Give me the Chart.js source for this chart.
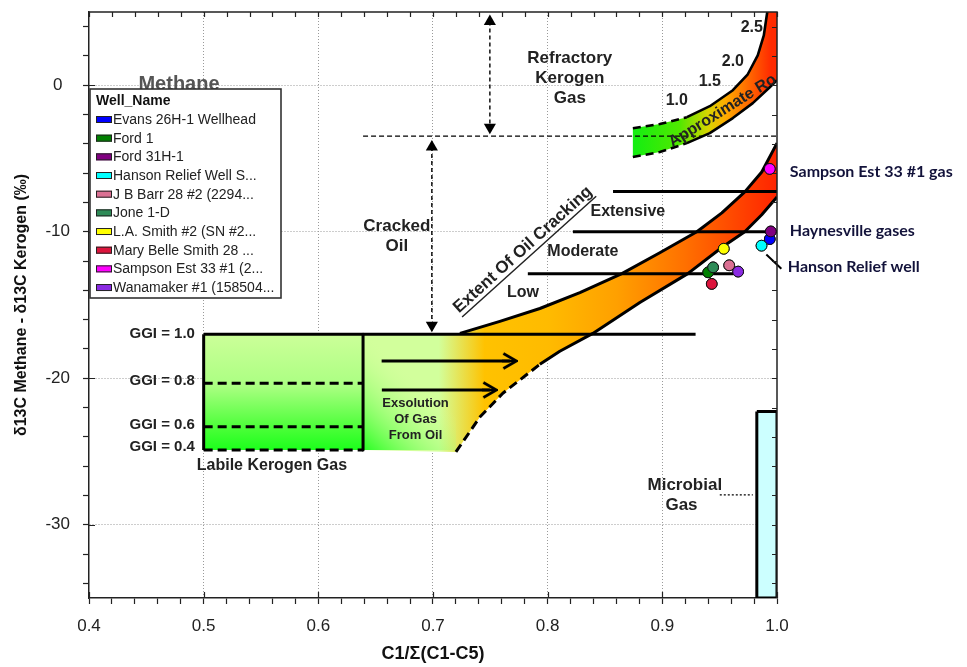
<!DOCTYPE html>
<html>
<head>
<meta charset="utf-8">
<script src="https://cdn.jsdelivr.net/npm/chart.js@4.4.1/dist/chart.umd.min.js"></script>
<style>
  html, body { margin: 0; padding: 0; background: #fff; }
  #wrap { position: relative; width: 967px; height: 667px; }
</style>
</head>
<body>
<div id="wrap"><canvas id="chart"></canvas></div>
<script>
// ---- Well gas samples: C1/Σ(C1-C5) vs δ13C(methane) − δ13C(kerogen) ----
const wellNames = ['Evans 26H-1 Wellhead', 'Ford 1', 'Ford 31H-1', 'Hanson Relief Well S...',
  'J B Barr 28 #2 (2294...', 'Jone 1-D', 'L.A. Smith #2 (SN #2...', 'Mary Belle Smith 28 ...',
  'Sampson Est 33 #1 (2...', 'Wanamaker #1 (158504...'];
const wellC1Ratio = [0.9937, 0.9400, 0.9946, 0.9865, 0.9583, 0.9443, 0.9536, 0.9431, 0.9937, 0.9661];
const wellDeltaC = [-10.50, -12.77, -9.98, -10.95, -12.29, -12.43, -11.16, -13.56, -5.71, -12.72];
const wellColors = ['#0000ff', '#008000', '#800080', '#00ffff', '#db7093', '#2e8b57', '#ffff00', '#dc143c', '#ff00ff', '#8a2be2'];

// ---- Axis ticks ----
const xMajorTicks = [0.4, 0.5, 0.6, 0.7, 0.8, 0.9, 1.0];
const yMajorTicks = [-30, -20, -10, 0];
const xMinorTicks = [0.4, 0.42, 0.44, 0.46, 0.48, 0.5, 0.52, 0.54, 0.56, 0.58, 0.6, 0.62, 0.64, 0.66, 0.68, 0.7,
  0.72, 0.74, 0.76, 0.78, 0.8, 0.82, 0.84, 0.86, 0.88, 0.9, 0.92, 0.94, 0.96, 0.98, 1.0];
const yMinorTicks = [-34, -32, -30, -28, -26, -24, -22, -20, -18, -16, -14, -12, -10, -8, -6, -4, -2, 0, 2, 4];

// ---- Interpretive zones (same units as the axes) ----
const crackingUpper = [[0.7235, -16.94], [0.7583, -16.12], [0.7932, -15.24], [0.8281, -14.15], [0.8647, -12.86],
  [0.8978, -11.43], [0.9301, -10.0], [0.9519, -8.71], [0.9719, -7.28], [0.9867, -5.92], [1.0, -3.95]];
const crackingLowerDashed = [[0.72, -25.03], [0.7409, -22.65], [0.7609, -21.02], [0.7932, -19.05]];
const crackingLowerSolid = [[0.7932, -19.05], [0.8106, -18.16], [0.8394, -16.94], [0.8804, -14.83], [0.9222, -12.86],
  [0.9527, -11.02], [0.9719, -10.0], [0.9867, -8.84], [1.0, -7.62]];
const roUpperDashed = [[0.8743, -2.93], [0.8978, -2.65], [0.9214, -2.18]];
const roUpperSolid = [[0.9214, -2.18], [0.9414, -1.43], [0.9615, -0.34], [0.9745, 0.75], [0.9832, 2.04],
  [0.9885, 3.40], [0.9915, 5.0]];
const roLowerDashed = [[0.8743, -4.90], [0.8978, -4.56], [0.9214, -3.95]];
const roLowerSolid = [[0.9214, -3.95], [0.9414, -3.27], [0.9615, -2.24], [0.9789, -1.22], [0.9937, -0.14], [1.0, 0.34]];

const labileX = [0.5, 0.639];
const ggiLevels = ['1.0', '0.8', '0.6', '0.4'];
const ggiDelta = [-17.0, -20.34, -23.31, -24.9];
const ggiLineEnd = 0.929;

const extentStartX = [0.857, 0.822, 0.7827];
const extentEndX = [1.0, 1.0, 0.962];
const extentDelta = [-7.26, -10.0, -12.86];

const refractoryFloor = -3.47;
const microbialX = [0.9824, 1.0];
const microbialTop = -22.27;

// ---- Colour ramps along the zones ----
const bandStops = [[0.705, '#d2ff9c'], [0.745, '#ffc200'], [0.80, '#ffbb00'], [0.86, '#ffa000'],
  [0.92, '#ff7000'], [0.96, '#ff4a00'], [1.0, '#ff2400']];
const roStops = [[0.874, '#12ee12'], [0.915, '#50e800'], [0.94, '#d8d400'], [0.955, '#ffac00'],
  [0.975, '#ff6a00'], [0.995, '#ff2a00']];
const labileStops = [[-17, '#ccff99'], [-20.5, '#abff82'], [-23.5, '#48ff36'], [-24.9, '#1cff1c']];

const SANS = '"Liberation Sans", Arial, sans-serif';
const near = (a, b) => Math.abs(a - b) < 1e-6;
const isMajorX = v => xMajorTicks.some(m => near(m, v));
const isMajorY = v => yMajorTicks.some(m => near(m, v));
const pts = arr => arr.map(([x, y]) => ({ x, y }));

function ramp(chart, axis, stops) {
  const { ctx, chartArea, scales } = chart;
  if (!chartArea) return 'rgba(0,0,0,0)';
  const s = scales[axis];
  const a = stops[0][0], b = stops[stops.length - 1][0];
  const p0 = s.getPixelForValue(a), p1 = s.getPixelForValue(b);
  const g = axis === 'x' ? ctx.createLinearGradient(p0, 0, p1, 0) : ctx.createLinearGradient(0, p0, 0, p1);
  stops.forEach(([v, c]) => g.addColorStop((v - a) / (b - a), c));
  return g;
}
function diagonal(chart, from, to, c0, c1) {
  const { ctx, chartArea, scales: { x, y } } = chart;
  if (!chartArea) return 'rgba(0,0,0,0)';
  const g = ctx.createLinearGradient(x.getPixelForValue(from[0]), y.getPixelForValue(from[1]),
    x.getPixelForValue(to[0]), y.getPixelForValue(to[1]));
  g.addColorStop(0, c0); g.addColorStop(1, c1);
  return g;
}

// open arrowhead with a short shaft piece, used as a point style
function chevron() {
  const c = document.createElement('canvas');
  c.width = 16; c.height = 18;
  const g = c.getContext('2d');
  g.strokeStyle = '#000'; g.lineWidth = 2.6; g.lineJoin = 'miter';
  g.beginPath(); g.moveTo(1.5, 1.5); g.lineTo(14.5, 9); g.lineTo(1.5, 16.5); g.stroke();
  g.beginPath(); g.moveTo(0, 9); g.lineTo(14, 9); g.stroke();
  return c;
}
const arrowHead = chevron();

function line(points, extra) {
  return Object.assign({
    type: 'line', data: pts(points), borderColor: '#000', borderWidth: 3, pointRadius: 0,
    fill: false, tension: 0, order: 5, borderJoinStyle: 'round'
  }, extra || {});
}
function shape(points, bg, extra) {
  return Object.assign({
    type: 'line', data: pts(points), borderColor: 'rgba(0,0,0,0)', borderWidth: 0, pointRadius: 0,
    fill: 'shape', backgroundColor: bg, tension: 0, order: 20
  }, extra || {});
}

const bandShape = [[labileX[1], ggiDelta[0]], ...crackingUpper, ...crackingLowerSolid.slice().reverse(),
  ...crackingLowerDashed.slice().reverse(), [labileX[1], ggiDelta[3]]];
const roShape = [...roUpperDashed, ...roUpperSolid, [1.0, 5.0], ...roLowerSolid.slice().reverse(), ...roLowerDashed.slice().reverse()];
const labileShape = [[labileX[0], ggiDelta[0]], [labileX[1], ggiDelta[0]], [labileX[1], ggiDelta[3]], [labileX[0], ggiDelta[3]]];
const exsolutionGlow = [[labileX[1], ggiDelta[0]], [0.72, ggiDelta[0]], [0.72, ggiDelta[3]], [labileX[1], ggiDelta[3]]];
const microbialShape = [[microbialX[0], microbialTop], [microbialX[1], microbialTop], [microbialX[1], -35],
  [microbialX[0], -35], [microbialX[0], microbialTop]];

const datasets = [
  shape(labileShape, c => ramp(c.chart, 'y', labileStops), { order: 24 }),
  shape(bandShape, c => ramp(c.chart, 'x', bandStops), { order: 23 }),
  shape(exsolutionGlow, c => diagonal(c.chart, [0.636, -24.9], [0.69, -20.3], 'rgba(20,255,20,0.95)', 'rgba(210,255,156,0)'), { order: 22 }),
  shape(roShape, c => ramp(c.chart, 'x', roStops), { order: 21 }),
  shape(microbialShape, '#ccffff', { borderColor: '#000', borderWidth: 3, borderJoinStyle: 'miter', order: 20 }),

  // oil-cracking band edges
  line(crackingUpper),
  line(crackingLowerDashed, { borderDash: [9, 5] }),
  line(crackingLowerSolid),
  // thermal maturity (Ro) band edges
  line(roUpperDashed, { borderDash: [8, 5], borderWidth: 2.6 }),
  line(roUpperSolid, { borderWidth: 2.6 }),
  line(roLowerDashed, { borderDash: [8, 5], borderWidth: 2.6 }),
  line(roLowerSolid, { borderWidth: 2.6 }),

  // labile kerogen gas box and GGI levels
  line([[labileX[0], ggiDelta[0]], [ggiLineEnd, ggiDelta[0]]]),
  line([[labileX[0], ggiDelta[0]], [labileX[0], ggiDelta[3]]], { borderJoinStyle: 'miter' }),
  line([[labileX[1], ggiDelta[0]], [labileX[1], ggiDelta[3]]]),
  ...ggiDelta.slice(1).map(v => line([[labileX[0], v], [labileX[1], v]], { borderDash: [9, 5] })),

  // extent of oil cracking levels
  ...extentDelta.map((v, i) => line([[extentStartX[i], v], [extentEndX[i], v]])),

  // refractory kerogen gas floor and range arrows
  line([[labileX[1], refractoryFloor], [1.0, refractoryFloor]], { borderDash: [5, 3], borderWidth: 1.4 }),
  line([[0.7496, 4.35], [0.7496, -2.86]], {
    borderDash: [4, 3], borderWidth: 1.4, pointRadius: 7, pointStyle: 'triangle',
    pointRotation: [0, 180], pointBackgroundColor: '#000', pointBorderWidth: 0
  }),
  line([[0.699, -4.22], [0.699, -16.39]], {
    borderDash: [4, 3], borderWidth: 1.4, pointRadius: 7, pointStyle: 'triangle',
    pointRotation: [0, 180], pointBackgroundColor: '#000', pointBorderWidth: 0
  }),

  // gas exsolution arrows
  line([[0.6552, -18.82], [0.767, -18.82]], { pointRadius: [0, 8], pointStyle: arrowHead }),
  line([[0.6554, -20.80], [0.7496, -20.80]], { pointRadius: [0, 8], pointStyle: arrowHead }),

  // leader lines
  line([[0.9501, -27.96], [0.9789, -27.96]], { borderDash: [2, 2], borderWidth: 1.2 }),
  line([[0.9907, -11.56], [1.0038, -12.52]], { borderWidth: 2, clip: false }),

  // well samples
  ...wellNames.map((n, i) => ({
    type: 'scatter', label: n, data: [{ x: wellC1Ratio[i], y: wellDeltaC[i] }],
    backgroundColor: wellColors[i], borderColor: '#111', borderWidth: 1, pointRadius: 5.4,
    order: 0, clip: false, isWell: true
  }))
];

// ---- Text placed in data units ----
const notes = [
  { text: 'Methane', x: 0.4785, y: 0.07, size: 20, color: '#555' },
  { text: 'Refractory', x: 0.8193, y: 1.82, size: 17 },
  { text: 'Kerogen', x: 0.8193, y: 0.46, size: 17 },
  { text: 'Gas', x: 0.8193, y: -0.90, size: 17 },
  { text: 'Cracked', x: 0.6685, y: -9.66, size: 17 },
  { text: 'Oil', x: 0.6685, y: -11.02, size: 17 },
  { text: 'Extensive', x: 0.8699, y: -8.64, size: 16 },
  { text: 'Moderate', x: 0.8307, y: -11.36, size: 16 },
  { text: 'Low', x: 0.7784, y: -14.15, size: 16 },
  { text: 'Extent Of Oil Cracking', x: 0.7784, y: -11.22, size: 17, rot: -42, underline: true },
  { text: '1.0', x: 0.9126, y: -1.02, size: 16 },
  { text: '1.5', x: 0.9414, y: 0.27, size: 16 },
  { text: '2.0', x: 0.9615, y: 1.63, size: 16 },
  { text: '2.5', x: 0.978, y: 3.95, size: 16 },
  { text: 'Approximate Ro', x: 0.9525, y: -1.75, size: 16, rot: -32, clip: true },
  ...ggiLevels.map((g, i) => ({ text: 'GGI = ' + g, x: 0.4924, y: [-16.94, -20.18, -23.2, -24.65][i], size: 15, align: 'right' })),
  { text: 'Labile Kerogen Gas', x: 0.5595, y: -25.99, size: 16 },
  { text: 'Exsolution', x: 0.6848, y: -21.72, size: 13 },
  { text: 'Of Gas', x: 0.6848, y: -22.79, size: 13 },
  { text: 'From Oil', x: 0.6848, y: -23.93, size: 13 },
  { text: 'Microbial', x: 0.9196, y: -27.33, size: 17 },
  { text: 'Gas', x: 0.9167, y: -28.64, size: 17 },
  { text: 'Sampson Est 33 #1 gas', x: 1.0112, y: -5.92, size: 16, align: 'left', family: 'Lato, "Open Sans", sans-serif', color: '#12123a' },
  { text: 'Haynesville gases', x: 1.0112, y: -9.93, size: 16, align: 'left', family: 'Lato, "Open Sans", sans-serif', color: '#12123a' },
  { text: 'Hanson Relief well', x: 1.0094, y: -12.38, size: 16, align: 'left', family: 'Lato, "Open Sans", sans-serif', color: '#12123a' }
];

const decorations = {
  id: 'decorations',
  afterDraw(chart) {
    const { ctx, chartArea: a, scales: { x, y } } = chart;
    ctx.save();
    // top and right frame with inward ticks; inward halves of major ticks on left/bottom
    ctx.strokeStyle = '#222';
    ctx.lineWidth = 1.5;
    ctx.beginPath();
    ctx.moveTo(a.left, a.top); ctx.lineTo(a.right, a.top); ctx.lineTo(a.right, a.bottom);
    ctx.stroke();
    ctx.lineWidth = 1.2;
    ctx.beginPath();
    x.ticks.forEach(t => {
      const px = Math.round(x.getPixelForValue(t.value)) + 0.5;
      ctx.moveTo(px, a.top); ctx.lineTo(px, a.top + 5);
      if (isMajorX(t.value)) { ctx.moveTo(px, a.bottom); ctx.lineTo(px, a.bottom - 6); }
    });
    y.ticks.forEach(t => {
      const py = Math.round(y.getPixelForValue(t.value)) + 0.5;
      ctx.moveTo(a.right, py); ctx.lineTo(a.right - 5, py);
      if (isMajorY(t.value)) { ctx.moveTo(a.left, py); ctx.lineTo(a.left + 6, py); }
    });
    ctx.stroke();
    ctx.restore();

    // sample points stay above the dotted grid
    chart.data.datasets.forEach((ds, i) => {
      if (ds.isWell) chart.getDatasetMeta(i).controller.draw();
    });

    // annotations
    notes.forEach(n => {
      ctx.save();
      if (n.clip) { ctx.beginPath(); ctx.rect(a.left, a.top, a.right - a.left, a.bottom - a.top); ctx.clip(); }
      const px = x.getPixelForValue(n.x), py = y.getPixelForValue(n.y);
      ctx.translate(px, py);
      if (n.rot) ctx.rotate(n.rot * Math.PI / 180);
      ctx.font = 'bold ' + n.size + 'px ' + (n.family || SANS);
      ctx.fillStyle = n.color || '#222';
      ctx.textAlign = n.align || 'center';
      ctx.textBaseline = 'middle';
      ctx.fillText(n.text, 0, 0);
      if (n.underline) {
        const w = ctx.measureText(n.text).width;
        ctx.strokeStyle = ctx.fillStyle; ctx.lineWidth = 1.5;
        ctx.beginPath(); ctx.moveTo(-w / 2, n.size * 0.55); ctx.lineTo(w / 2, n.size * 0.55); ctx.stroke();
      }
      ctx.restore();
    });

    // legend box
    const lx = a.left + 1, ly = a.top + 77, lw = 191, lh = 209;
    ctx.save();
    ctx.fillStyle = '#fff';
    ctx.fillRect(lx, ly, lw, lh);
    ctx.strokeStyle = '#333'; ctx.lineWidth = 1.6;
    ctx.strokeRect(lx, ly, lw, lh);
    ctx.textAlign = 'left'; ctx.textBaseline = 'middle';
    ctx.fillStyle = '#111';
    ctx.font = 'bold 14px ' + SANS;
    ctx.fillText('Well_Name', lx + 6, ly + 12);
    ctx.font = '14px ' + SANS;
    chart.data.datasets.filter(d => d.isWell).forEach((d, i) => {
      const cy = ly + 30.5 + i * 18.67;
      ctx.fillStyle = d.backgroundColor;
      ctx.fillRect(lx + 6, cy - 3.5, 16, 7);
      ctx.strokeStyle = '#222'; ctx.lineWidth = 1;
      ctx.strokeRect(lx + 6.5, cy - 3, 15, 6);
      ctx.fillStyle = '#222';
      ctx.fillText(d.label, lx + 23, cy + 0.5);
    });
    ctx.restore();
  }
};

new Chart(document.getElementById('chart'), {
  type: 'scatter',
  data: { datasets },
  options: {
    responsive: true,
    maintainAspectRatio: false,
    animation: false,
    events: [],
    layout: { padding: { left: 0, right: 190, top: 12, bottom: 0 } },
    plugins: { legend: { display: false }, tooltip: { enabled: false } },
    scales: {
      x: {
        type: 'linear', min: 0.4, max: 1.0, z: 1,
        afterBuildTicks: s => { s.ticks = xMinorTicks.map(v => ({ value: v })); },
        afterFit: s => { s.height = 69; s.paddingLeft = 0; s.paddingRight = 0; },
        ticks: {
          autoSkip: false, maxRotation: 0, padding: 12, color: '#222',
          font: { family: SANS, size: 17 },
          callback: v => isMajorX(v) ? v.toFixed(1) : ''
        },
        grid: {
          color: c => (c.tick && isMajorX(c.tick.value) && !near(c.tick.value, 0.4) && !near(c.tick.value, 1.0)) ? '#9a9a9a' : 'rgba(0,0,0,0)',
          lineWidth: 1, tickColor: '#222', tickWidth: 1.2, tickLength: 6
        },
        border: { display: true, color: '#222', width: 1.5, dash: [1, 2] },
        title: {
          display: true, text: 'C1/Σ(C1-C5)', color: '#111',
          font: { family: SANS, size: 18, weight: 'bold' }, padding: { top: 0, bottom: 2 }
        }
      },
      y: {
        type: 'linear', min: -35, max: 5, z: 1,
        afterBuildTicks: s => { s.ticks = yMinorTicks.map(v => ({ value: v })); },
        afterFit: s => { s.width = 89; s.paddingTop = 0; s.paddingBottom = 0; },
        ticks: {
          autoSkip: false, padding: 13, crossAlign: 'center', color: '#222',
          font: { family: SANS, size: 17 },
          callback: v => isMajorY(v) ? String(v) : ''
        },
        grid: {
          color: c => (c.tick && isMajorY(c.tick.value)) ? '#9a9a9a' : 'rgba(0,0,0,0)',
          lineWidth: 1, tickColor: '#222', tickWidth: 1.2, tickLength: 6
        },
        border: { display: true, color: '#222', width: 1.5, dash: [1, 2] },
        title: {
          display: true, text: 'δ13C Methane - δ13C Kerogen (‰)', color: '#111',
          font: { family: SANS, size: 16, weight: 'bold' }, padding: { top: 12, bottom: 0 }
        }
      }
    }
  },
  plugins: [decorations]
});
</script>
</body>
</html>
